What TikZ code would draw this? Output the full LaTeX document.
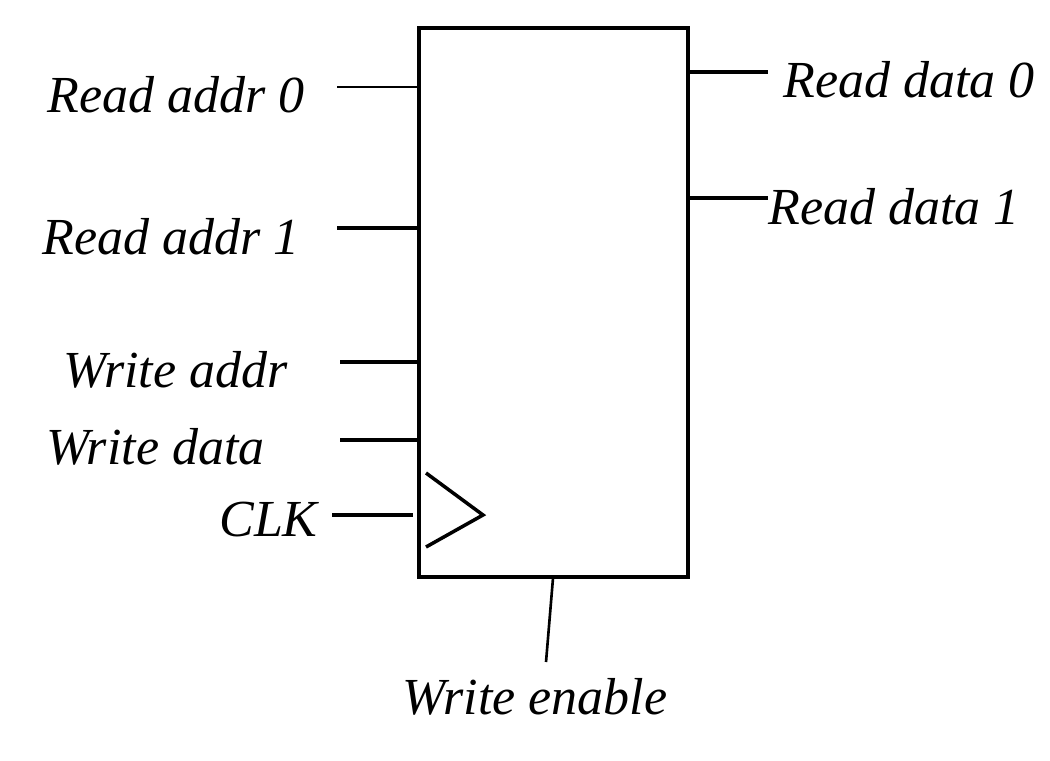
\documentclass[tikz,border=0pt]{standalone}
\usepackage{fontspec}
\setmainfont{Liberation Serif}
\usepackage{tikz}
\usetikzlibrary{positioning, calc}

\begin{document}
\begin{tikzpicture}[x=0.02cm, y=-0.02cm]
    \useasboundingbox (0,0) rectangle (1050,760);
    \tikzset{
        lbl/.style={inner sep=0pt, font=\fontsize{29.6}{34}\selectfont\itshape},
        wire/.style={line width=2pt}
    }

    % Register file
    \node[draw, line width=2.6pt, minimum width=5.38cm, minimum height=10.98cm, inner sep=0pt] (rf) at (553.5, 302.5) {};

    % Inputs
    \coordinate (ra0) at (337, 87);
    \coordinate (ra1) at (337, 228);
    \coordinate (wa) at (340, 362);
    \coordinate (wd) at (340, 440);
    \coordinate (clk) at (332, 515);
    \draw[line width=1.4pt] (ra0) -- (ra0 -| rf.west);
    \draw[wire] (ra1) -- (ra1 -| rf.west);
    \draw[wire] (wa) -- (wa -| rf.west);
    \draw[wire] (wd) -- (wd -| rf.west);
    \draw[wire] (clk) -- (413, 515);

    % Clock triangle
    \draw[wire] (426, 473) -- (483, 515) -- (426, 547);

    % Outputs
    \coordinate (rd0) at (768, 72);
    \coordinate (rd1) at (768, 198);
    \draw[wire] (rd0 -| rf.east) -- (rd0);
    \draw[wire] (rd1 -| rf.east) -- (rd1);

    % Write enable
    \coordinate (we) at (546, 662);
    \draw[line width=1.5pt] (553, 578) -- (we);

    % Labels
    \node[lbl, anchor=east] (lra0) at (305, 95) {Read addr 0};
    \node[lbl, anchor=east] (lra1) at (300, 237) {Read addr 1};
    \node[lbl, anchor=east] (lwa) at (288, 370) {Write addr};
    \node[lbl, anchor=east] (lwd) at (265, 447) {Write data};
    \node[lbl, anchor=east] (lclk) at (318, 520) {CLK};
    \node[lbl, anchor=west] (lrd0) at (783, 80) {Read data 0};
    \node[lbl, anchor=west] (lrd1) at (768, 207) {Read data 1};
    \node[lbl] (lwe) at (535, 697) {Write enable};
\end{tikzpicture}
\end{document}
